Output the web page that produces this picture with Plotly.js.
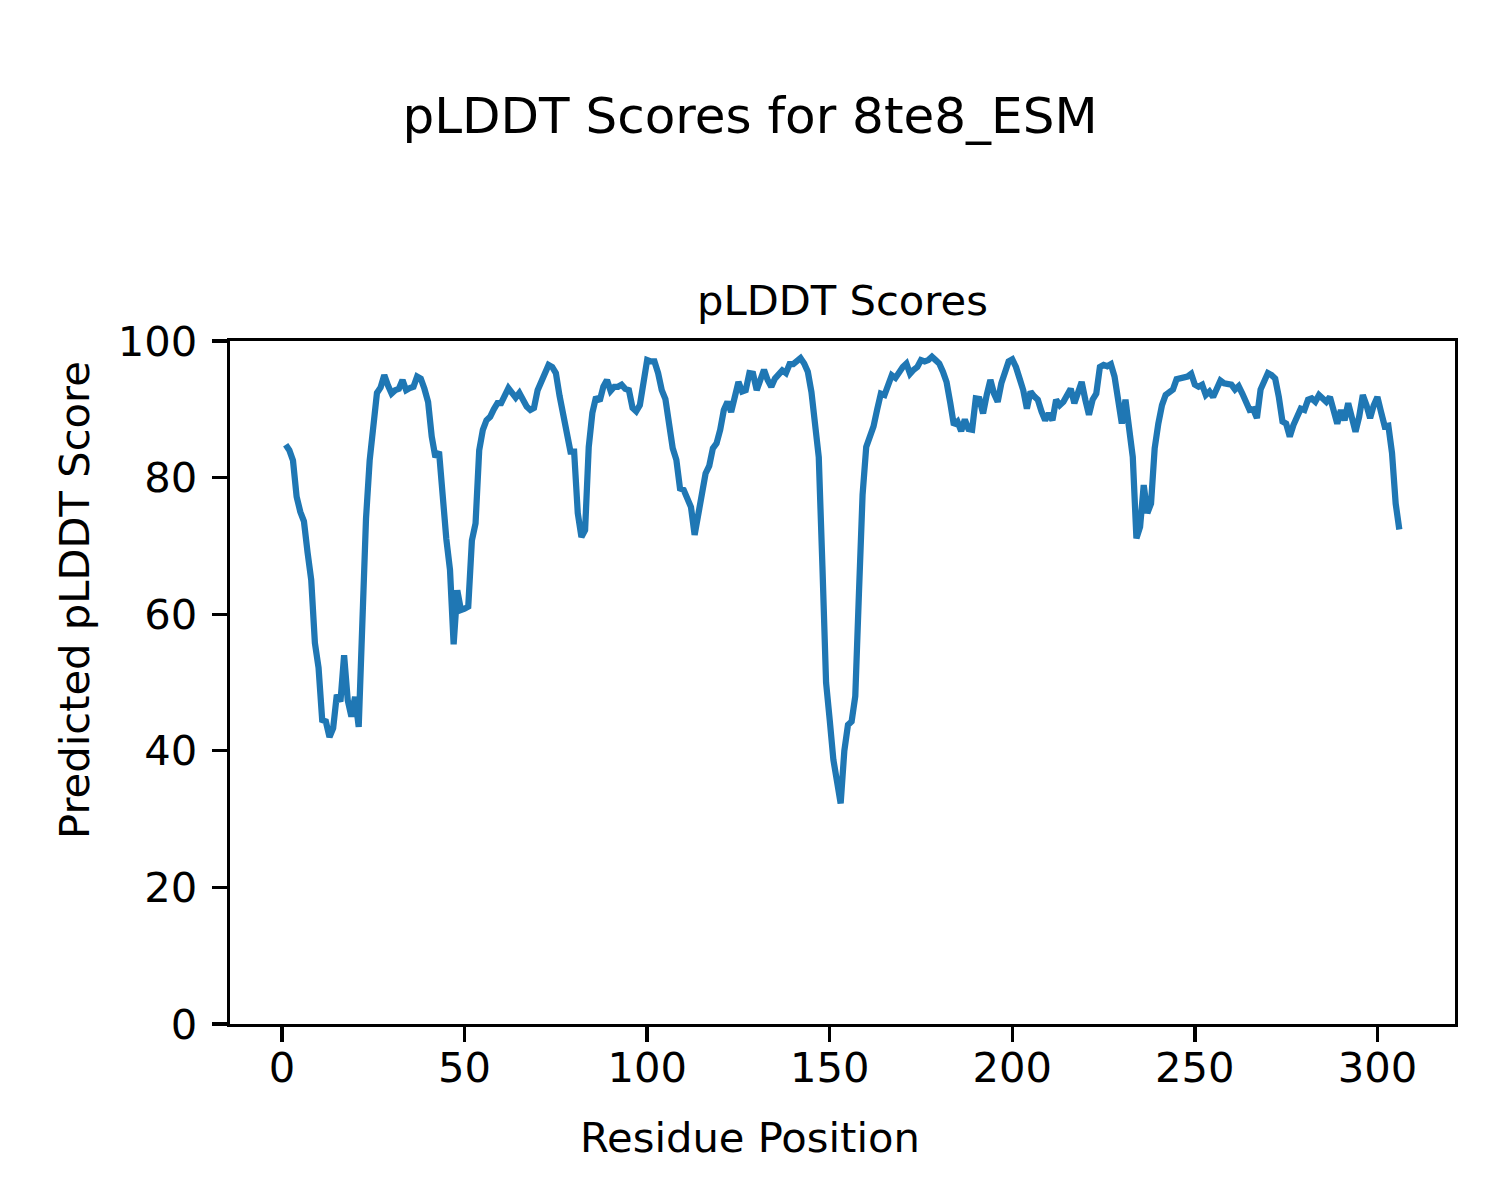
<!DOCTYPE html>
<html>
<head>
<meta charset="utf-8">
<script src="https://cdn.plot.ly/plotly-3.0.1.min.js"></script>
<style>
  html, body { margin: 0; padding: 0; background: #ffffff; }
  #chart { width: 1500px; height: 1200px; }
</style>
</head>
<body>
<div id="chart"></div>
<script>
// Residue positions start at 1 with step 1 (x0 / dx below)
const firstResidue = 1;
const residueStep = 1;

// pLDDT scores, residues 1..306
const plddt = [
  84.8, 84.0, 82.5, 77.2, 75.0, 73.6, 69.0, 65.0, 55.8, 52.2,
  44.5, 44.3, 42.0, 43.3, 48.2, 47.2, 54.0, 47.4, 45.0, 47.9,
  43.5, 62.0, 74.0, 82.5, 88.8, 92.4, 93.2, 95.0, 93.5, 92.3,
  92.8, 93.0, 94.3, 92.8, 93.1, 93.3, 94.8, 94.5, 93.0, 91.1,
  86.0, 83.0, 83.8, 75.7, 71.0, 66.5, 55.6, 63.5, 60.6, 60.8,
  61.1, 70.8, 73.3, 84.0, 87.0, 88.4, 88.9, 90.0, 90.9, 90.9,
  92.0, 93.1, 92.4, 91.7, 92.4, 91.4, 90.4, 89.9, 90.2, 92.8,
  93.9, 95.5, 96.5, 96.2, 95.3, 92.0, 89.0, 86.5, 83.8, 83.8,
  74.8, 71.3, 72.3, 84.5, 89.5, 91.8, 91.2, 93.3, 94.3, 92.7,
  93.3, 93.3, 93.6, 93.0, 92.8, 90.2, 89.7, 90.6, 94.8, 97.2,
  97.0, 97.0, 95.3, 92.8, 91.5, 88.0, 84.3, 82.6, 78.4, 78.2,
  77.0, 75.7, 71.6, 74.8, 77.2, 80.6, 81.7, 84.3, 85.0, 87.0,
  89.9, 91.1, 89.6, 91.4, 94.0, 92.6, 92.8, 95.3, 95.2, 92.8,
  94.3, 95.8, 94.3, 93.3, 94.5, 95.0, 95.7, 95.3, 96.6, 96.6,
  97.0, 97.5, 96.7, 95.5, 92.5, 88.0, 83.0, 67.0, 50.0, 44.5,
  38.7, 35.5, 32.3, 40.0, 43.8, 44.3, 48.0, 63.0, 77.5, 84.5,
  86.0, 87.5, 90.0, 92.3, 92.1, 93.5, 95.0, 94.6, 95.5, 96.2,
  96.7, 95.2, 95.8, 96.2, 97.2, 97.0, 97.2, 97.7, 97.2, 96.7,
  95.5, 94.0, 91.0, 87.7, 88.2, 86.8, 88.5, 87.1, 87.0, 91.6,
  91.5, 89.4, 92.1, 94.3, 92.3, 91.1, 93.8, 95.8, 97.0, 97.3,
  96.2, 94.5, 92.8, 90.1, 92.6, 91.9, 91.4, 89.7, 88.4, 89.4,
  88.4, 91.4, 90.6, 91.1, 92.3, 93.0, 90.9, 92.3, 94.0, 91.4,
  89.2, 91.4, 92.3, 96.2, 96.5, 96.3, 96.6, 94.8, 90.9, 87.9,
  91.4, 87.5, 83.0, 71.1, 72.8, 78.9, 74.8, 76.2, 84.3, 87.9,
  90.6, 92.1, 92.5, 92.9, 94.4, 94.5, 94.5, 94.8, 95.2, 93.6,
  93.3, 93.6, 92.1, 92.6, 91.8, 93.3, 94.2, 93.8, 93.7, 93.6,
  92.9, 93.4, 92.3, 91.1, 89.9, 90.0, 88.7, 92.9, 94.0, 95.3,
  95.0, 94.5, 91.8, 88.2, 87.9, 86.0, 87.7, 89.2, 90.1, 89.9,
  91.4, 91.6, 91.1, 92.1, 91.6, 91.1, 91.8, 89.4, 87.9, 89.9,
  88.4, 90.9, 88.4, 86.7, 88.9, 92.1, 90.6, 88.7, 90.6, 91.8,
  89.6, 87.5, 87.6, 83.6, 76.2, 72.4
];

// Axis ticks
const xTicks = [0, 50, 100, 150, 200, 250, 300];
const yTicks = [0, 20, 40, 60, 80, 100];

// Texts
const figTitle = "pLDDT Scores for 8te8_ESM";
const axesTitle = "pLDDT Scores";
const xLabel = "Residue Position";
const yLabel = "Predicted pLDDT Score";

const FONT = "DejaVu Sans, sans-serif";
const fs = 41.67;

const xMin = firstResidue;
const xMax = firstResidue + (plddt.length - 1) * residueStep;
const xPad = (xMax - xMin) * 0.05;

const trace = {
  type: "scatter",
  mode: "lines",
  x0: firstResidue,
  dx: residueStep,
  y: plddt,
  line: { color: "#1f77b4", width: 6.25 },
  hoverinfo: "skip",
  showlegend: false
};

const axisCommon = {
  showgrid: false,
  zeroline: false,
  showline: true,
  linecolor: "#000000",
  linewidth: 3.33,
  mirror: true,
  ticks: "outside",
  ticklen: 15,
  tickwidth: 3.33,
  tickcolor: "#000000",
  tickfont: { family: FONT, size: fs, color: "#000000" }
};

const layout = {
  width: 1500,
  height: 1200,
  paper_bgcolor: "#ffffff",
  plot_bgcolor: "#ffffff",
  margin: { l: 230, r: 45, t: 341, b: 176, pad: 0 },
  font: { family: FONT, color: "#000000" },
  title: {
    text: figTitle,
    font: { family: FONT, size: 50, color: "#000000" },
    x: 0.5, xref: "container", xanchor: "center",
    y: 0.904, yref: "container", yanchor: "middle"
  },
  xaxis: Object.assign({}, axisCommon, {
    range: [xMin - xPad, xMax + xPad],
    tickmode: "array",
    tickvals: xTicks,
    ticktext: xTicks.map(String),
    ticklabelstandoff: -10
  }),
  yaxis: Object.assign({}, axisCommon, {
    range: [0, 100],
    tickmode: "array",
    tickvals: yTicks,
    ticktext: yTicks.map(String),
    ticklabelstandoff: 6
  }),
  annotations: [
    {
      text: axesTitle, xref: "paper", yref: "paper",
      x: 0.5, y: 1.0586, xanchor: "center", yanchor: "middle",
      showarrow: false, font: { family: FONT, size: fs, color: "#000000" }
    },
    {
      text: xLabel, xref: "paper", yref: "paper",
      x: (750 - 230) / 1225, y: (1024 - 1137) / 683,
      xanchor: "center", yanchor: "middle",
      showarrow: false, font: { family: FONT, size: fs, color: "#000000" }
    },
    {
      text: yLabel, xref: "paper", yref: "paper",
      x: (74 - 230) / 1225, y: (1024 - 600) / 683,
      xanchor: "center", yanchor: "middle", textangle: -90,
      showarrow: false, font: { family: FONT, size: fs, color: "#000000" }
    }
  ]
};

Plotly.newPlot("chart", [trace], layout, { staticPlot: true, displayModeBar: false });
</script>
</body>
</html>
